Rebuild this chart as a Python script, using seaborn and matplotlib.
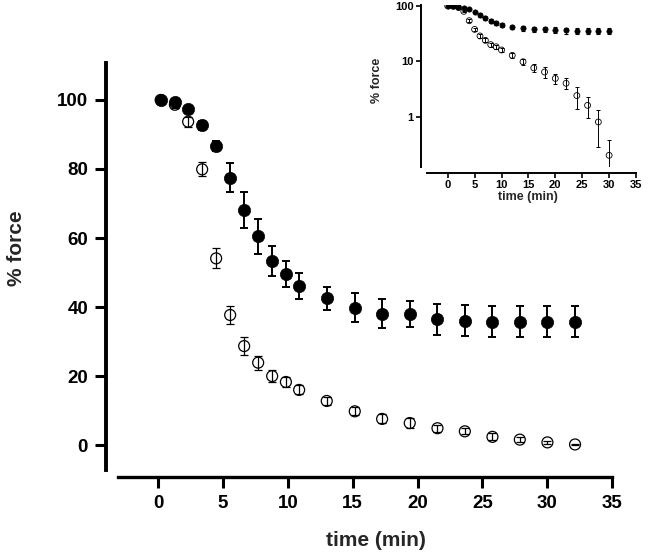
import numpy as np
import pandas as pd
import matplotlib
matplotlib.use("Agg")
import matplotlib.pyplot as plt
from matplotlib import ticker
import seaborn as sns

# ---- data ----
# marker positions along the main x axis (as drawn, in axis units)
main_time = [0.19, 1.29, 2.31, 3.39, 4.47, 5.55, 6.63, 7.71, 8.79, 9.85, 10.87,
             13.0, 15.16, 17.27, 19.4, 21.54, 23.65, 25.78, 27.89, 30.02, 32.15]
# sampling times used in the inset
inset_time = [0, 1, 2, 3, 4, 5, 6, 7, 8, 9, 10,
              12, 14, 16, 18, 20, 22, 24, 26, 28, 30]
filled_force = [100, 99.5, 97.3, 92.6, 86.7, 77.4, 68.1, 60.5, 53.3, 49.6, 46.1,
                42.5, 39.8, 38.1, 37.9, 36.4, 36.0, 35.7, 35.7, 35.7, 35.8]
filled_err = [0.5, 0.8, 1.0, 1.2, 1.5, 4.2, 5.2, 5.0, 4.4, 3.8, 3.7,
              3.4, 4.2, 4.1, 3.8, 4.6, 4.5, 4.5, 4.5, 4.5, 4.5]
open_force = [100, 98.6, 93.7, 79.9, 54.1, 37.7, 28.7, 23.9, 20.0, 18.3, 16.0,
              12.8, 9.8, 7.6, 6.4, 4.9, 4.0, 2.4, 1.6, 0.8, 0.2]
open_err = [0.5, 1.0, 1.5, 2.0, 2.9, 2.7, 2.65, 2.0, 1.8, 1.5, 1.3,
            1.2, 1.2, 1.3, 1.4, 1.05, 0.9, 1.0, 0.65, 0.52, 0.18]

x_ticks = [0, 5, 10, 15, 20, 25, 30, 35]
main_y_ticks = [0, 20, 40, 60, 80, 100]
inset_y_ticks = [1, 10, 100]

df = pd.DataFrame({"main_time": main_time, "inset_time": inset_time,
                   "filled": filled_force, "filled_err": filled_err,
                   "open": open_force, "open_err": open_err})

sns.set_theme(style="ticks")
plt.rcParams["font.family"] = ["Liberation Sans", "DejaVu Sans"]
plt.rcParams["font.weight"] = "bold"

fig = plt.figure(figsize=(6.56, 5.55), dpi=100)
fig.patch.set_facecolor("white")

# ---------------- main axes ----------------
ax = fig.add_axes([118 / 656, 85 / 555, 494 / 656, 407 / 555])
ax.set_facecolor("white")

ax.errorbar(df["main_time"], df["open"], yerr=df["open_err"], fmt="none",
            ecolor="black", elinewidth=0.9, capsize=3.0, capthick=0.9, zorder=2)
sns.scatterplot(data=df, x="main_time", y="open", ax=ax, marker="o", s=62,
                facecolor="none", edgecolor="black", linewidth=0.9, zorder=3)
ax.errorbar(df["main_time"], df["filled"], yerr=df["filled_err"], fmt="none",
            ecolor="black", elinewidth=1.4, capsize=3.2, capthick=1.4, zorder=4)
sns.scatterplot(data=df, x="main_time", y="filled", ax=ax, marker="o", s=78,
                color="black", edgecolor="black", linewidth=0.5, zorder=5)

ax.set_xlim(-3.1, 35)
ax.set_ylim(-7.2, 110.7)
ax.set_xticks(x_ticks)
ax.set_yticks(main_y_ticks)
for s in ["top", "right"]:
    ax.spines[s].set_visible(False)
ax.spines["left"].set_position(("outward", 8.6))
ax.spines["bottom"].set_position(("outward", 5))
ax.spines["left"].set_linewidth(2.8)
ax.spines["bottom"].set_linewidth(2.4)
for s in ["left", "bottom"]:
    ax.spines[s].set_color("black")
ax.tick_params(axis="both", direction="out", length=8, width=2.2, color="black",
               labelsize=13.5, pad=5, labelcolor="black")
for lab in ax.get_xticklabels() + ax.get_yticklabels():
    lab.set_fontweight("bold")
ax.set_xlabel("time (min)", fontsize=15, fontweight="bold", va="center")
ax.set_ylabel("% force", fontsize=15, fontweight="bold", va="center")
ax.xaxis.set_label_coords(0.522, -0.172)
ax.yaxis.set_label_coords(-0.2045, 0.545)

# ---------------- inset axes ----------------
ax2 = fig.add_axes([427 / 656, 388 / 555, 209 / 656, 162 / 555])
ax2.set_facecolor("none")
ax2.set_yscale("log", nonpositive="clip")
ax2.errorbar(df["inset_time"], df["open"], yerr=df["open_err"], fmt="none",
             ecolor="black", elinewidth=0.7, capsize=1.5, capthick=0.7, zorder=2)
sns.scatterplot(data=df, x="inset_time", y="open", ax=ax2, marker="o", s=18,
                facecolor="none", edgecolor="black", linewidth=0.6, zorder=3)
ax2.errorbar(df["inset_time"], df["filled"], yerr=df["filled_err"], fmt="none",
             ecolor="black", elinewidth=0.8, capsize=1.3, capthick=0.8, zorder=4)
sns.scatterplot(data=df, x="inset_time", y="filled", ax=ax2, marker="o", s=15,
                color="black", edgecolor="black", linewidth=0.4, zorder=5)

ax2.set_xlim(-3.85, 35)
ax2.set_ylim(0.123, 104)
ax2.set_xticks(x_ticks)
ax2.yaxis.set_major_locator(ticker.FixedLocator(inset_y_ticks))
ax2.yaxis.set_major_formatter(ticker.FixedFormatter([str(v) for v in inset_y_ticks]))
ax2.yaxis.set_minor_locator(ticker.NullLocator())
for s in ["top", "right"]:
    ax2.spines[s].set_visible(False)
ax2.spines["left"].set_position(("outward", 4.3))
ax2.spines["bottom"].set_position(("outward", 4))
for s in ["left", "bottom"]:
    ax2.spines[s].set_linewidth(1.4)
    ax2.spines[s].set_color("black")
ax2.tick_params(axis="both", direction="out", length=3.5, width=1.2, color="black",
                labelsize=8, pad=2, labelcolor="black")
for lab in ax2.get_xticklabels() + ax2.get_yticklabels():
    lab.set_fontweight("bold")
ax2.set_xlabel("time (min)", fontsize=9, fontweight="bold", va="center")
ax2.set_ylabel("% force", fontsize=9, fontweight="bold", va="center")
ax2.xaxis.set_label_coords(0.483, -0.185)
ax2.yaxis.set_label_coords(-0.239, 0.537)

fig.savefig("out.png", dpi=100, facecolor="white")
